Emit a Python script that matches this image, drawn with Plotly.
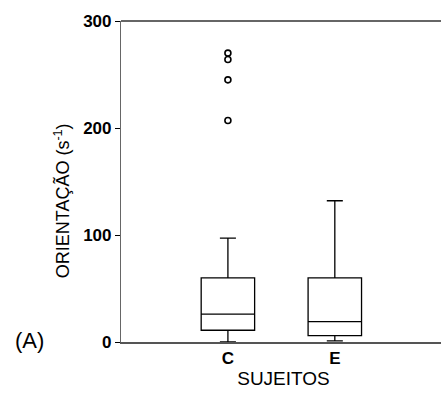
import plotly.graph_objects as go

categories = ["C", "E"]
positions = [1, 2]
q1 = [11, 6]
median = [26, 19]
q3 = [60, 60]
lower_fence = [0, 1]
upper_fence = [97, 132]
outliers_C = [207, 245, 264, 270]

y_ticks = [0, 100, 200, 300]

fig = go.Figure()
fig.add_trace(go.Box(
    x=positions, q1=q1, median=median, q3=q3,
    lowerfence=lower_fence, upperfence=upper_fence,
    width=0.5, whiskerwidth=0.3,
    fillcolor="white", line=dict(color="black", width=1.3),
    boxpoints=False, showlegend=False,
))
fig.add_trace(go.Scatter(
    x=[positions[0]] * len(outliers_C), y=outliers_C, mode="markers",
    marker=dict(symbol="circle-open", size=6, color="black", line=dict(width=1.6)),
    showlegend=False,
))

font = "Liberation Sans, Arial, sans-serif"
fig.update_layout(
    width=446, height=395,
    margin=dict(l=121, r=0, t=21, b=53, autoexpand=False),
    paper_bgcolor="white", plot_bgcolor="white",
    font=dict(family=font, color="black"),
    xaxis=dict(
        range=[0, 3.04], tickvals=positions, ticktext=["<b>" + c + "</b>" for c in categories],
        showline=True, linecolor="#555", linewidth=1.5, mirror=False,
        ticks="", showgrid=False, zeroline=False, automargin=False,
        tickfont=dict(size=17),
        title=dict(text="SUJEITOS", font=dict(size=19), standoff=4),
    ),
    yaxis=dict(
        range=[0, 300], tickvals=y_ticks, ticktext=["<b>%d</b>" % v for v in y_ticks],
        showline=True, linecolor="#666", linewidth=1.2,
        ticks="outside", ticklen=5, tickcolor="black", tickwidth=1.2,
        showgrid=False, zeroline=False, automargin=False,
        tickfont=dict(size=17),
    ),
    shapes=[dict(
        type="line", xref="paper", yref="paper", x0=0, x1=1, y0=1, y1=1,
        line=dict(color="#333", width=1.5),
    )],
    annotations=[
        dict(
            text="(A)", xref="paper", yref="paper", x=-0.28, y=0.005,
            xanchor="center", yanchor="middle", showarrow=False,
            font=dict(size=22, family=font, color="black"),
        ),
        dict(
            text="ORIENTAÇÃO (s<sup>-1</sup>)", xref="paper", yref="paper",
            x=-0.18, y=0.44, textangle=-90,
            xanchor="center", yanchor="middle", showarrow=False,
            font=dict(size=18, family=font, color="black"),
        ),
    ],
)
fig.write_html(
    "out.html",
    config={"displayModeBar": False, "responsive": False},
    post_script="document.body.style.margin='0';document.body.style.overflow='hidden';",
)
